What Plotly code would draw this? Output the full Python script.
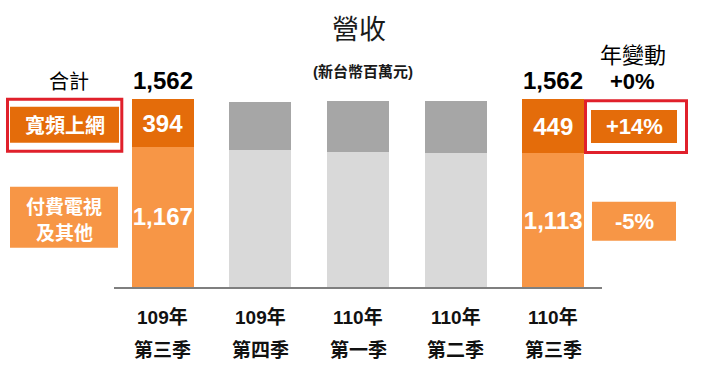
import plotly.graph_objects as go

# ---- data ----
quarters = ["109Q3", "109Q4", "110Q1", "110Q2", "110Q3"]
years = ["109年", "109年", "110年", "110年", "110年"]
seasons = ["第三季", "第四季", "第一季", "第二季", "第三季"]
broadband = [394, 402, 424, 435, 449]      # 寬頻上網
paytv = [1167, 1140, 1126, 1115, 1113]     # 付費電視及其他
totals = [1562, None, None, None, 1562]
highlight = [True, False, False, False, True]
yoy_total = "+0%"
yoy_broadband = "+14%"
yoy_paytv = "-5%"

# ---- style ----
W, H = 720, 385
L, R, T, B = 114, 118, 90, 98
DARK_OR = "#E46C0A"
LIGHT_OR = "#F79646"
DARK_GR = "#A6A6A6"
LIGHT_GR = "#D9D9D9"
RED = "#E0202B"
FONT = "Liberation Sans, Arial, 'Noto Sans CJK TC', sans-serif"
CJK = "'Noto Sans CJK TC', 'Liberation Sans', sans-serif"
PX_PER_UNIT = 0.1202
plot_h = H - T - B


def px(x):
    return (x - L) / (W - L - R)


def py(y):
    return (H - B - y) / plot_h


fig = go.Figure()

hi_x = [q for q, h in zip(quarters, highlight) if h]
lo_x = [q for q, h in zip(quarters, highlight) if not h]
hi_pay = [v for v, h in zip(paytv, highlight) if h]
hi_bb = [v for v, h in zip(broadband, highlight) if h]
lo_pay = [v for v, h in zip(paytv, highlight) if not h]
lo_bb = [v for v, h in zip(broadband, highlight) if not h]

txtfont = dict(family=FONT, size=24, color="white", weight="bold")

fig.add_trace(go.Bar(x=hi_x, y=hi_pay, marker=dict(color=LIGHT_OR, line=dict(width=0)),
                     texttemplate="%{y:,}", textposition="inside", insidetextanchor="middle",
                     textangle=0, textfont=txtfont, hoverinfo="skip"))
fig.add_trace(go.Bar(x=lo_x, y=lo_pay, marker=dict(color=LIGHT_GR, line=dict(width=0)),
                     hoverinfo="skip"))
fig.add_trace(go.Bar(x=hi_x, y=hi_bb, marker=dict(color=DARK_OR, line=dict(width=0)),
                     texttemplate="%{y:,}", textposition="inside", insidetextanchor="middle",
                     textangle=0, textfont=txtfont, hoverinfo="skip"))
fig.add_trace(go.Bar(x=lo_x, y=lo_bb, marker=dict(color=DARK_GR, line=dict(width=0)),
                     hoverinfo="skip"))

ann = []
# totals above highlighted bars
for q, b, p, t in zip(quarters, broadband, paytv, totals):
    if t is not None:
        ann.append(dict(x=q, y=b + p, xref="x", yref="y", text=f"{t:,}", showarrow=False,
                        yanchor="middle", yshift=19,
                        font=dict(family=FONT, size=24, color="black", weight="bold")))
# x labels
for q, yr, s in zip(quarters, years, seasons):
    ann.append(dict(x=q, y=py(316.7), xref="x", yref="paper", text=yr, showarrow=False,
                    yanchor="middle", font=dict(family=FONT, size=19, color="#111", weight="bold")))
    ann.append(dict(x=q, y=py(348), xref="x", yref="paper", text=s, showarrow=False,
                    yanchor="middle", font=dict(family=CJK, size=19, color="#111", weight="bold")))


def text_at(x, y, text, size, color="black", bold=False, family=FONT):
    f = dict(family=family, size=size, color=color)
    if bold:
        f["weight"] = "bold"
    ann.append(dict(x=px(x), y=py(y), xref="paper", yref="paper", text=text, showarrow=False,
                    xanchor="center", yanchor="middle", font=f))


text_at(359, 28, "營收", 27, color="#1a1a1a", family=CJK)
text_at(363, 71.7, "(新台幣百萬元)", 15, color="#1a1a1a", bold=True)
text_at(69, 80, "合計", 20, family=CJK)
text_at(64.5, 124.7, "寬頻上網", 20, color="white", bold=True, family=CJK)
text_at(64, 205.5, "付費電視", 19, color="white", bold=True, family=CJK)
text_at(64, 231, "及其他", 19, color="white", bold=True, family=CJK)
text_at(633, 52.7, "年變動", 22, family=CJK)
text_at(632.5, 81.7, yoy_total, 22, bold=True)
text_at(634, 126.5, yoy_broadband, 22, color="white", bold=True)
text_at(634, 221, yoy_paytv, 22, color="white", bold=True)

shapes = []


def rect(x0, y0, x1, y1, fill=None, line=None, lw=0):
    s = dict(type="rect", xref="paper", yref="paper", x0=px(x0), x1=px(x1), y0=py(y1), y1=py(y0),
             layer="below" if fill else "above")
    if fill:
        s["fillcolor"] = fill
        s["line"] = dict(width=0)
    else:
        s["line"] = dict(color=line, width=lw)
    shapes.append(s)


rect(10, 106.7, 119, 142.7, fill=DARK_OR)
rect(7.5, 99.2, 121.8, 151.2, line=RED, lw=3)
rect(10, 186.7, 118, 247.7, fill=LIGHT_OR)
rect(591, 110, 677, 143, fill=DARK_OR)
rect(585.5, 100.8, 686.5, 152.5, line=RED, lw=3)
rect(592, 201.7, 676, 240.7, fill=LIGHT_OR)

fig.update_layout(
    width=W, height=H,
    margin=dict(l=L, r=R, t=T, b=B, pad=0),
    barmode="stack", bargap=0.365,
    showlegend=False,
    plot_bgcolor="white", paper_bgcolor="white",
    uniformtext=dict(minsize=24, mode="show"),
    xaxis=dict(type="category", categoryorder="array", categoryarray=quarters,
               range=[-0.5, 4.5], showticklabels=False, ticks="", showgrid=False,
               showline=True, linecolor="#7f7f7f", linewidth=1.5, zeroline=False, fixedrange=True),
    yaxis=dict(visible=False, range=[0, plot_h / PX_PER_UNIT], fixedrange=True),
    annotations=ann,
    shapes=shapes,
)

fig.write_html("out.html", config={"displayModeBar": False},
               post_script="document.body.style.margin='0px';document.body.style.padding='0px';")
